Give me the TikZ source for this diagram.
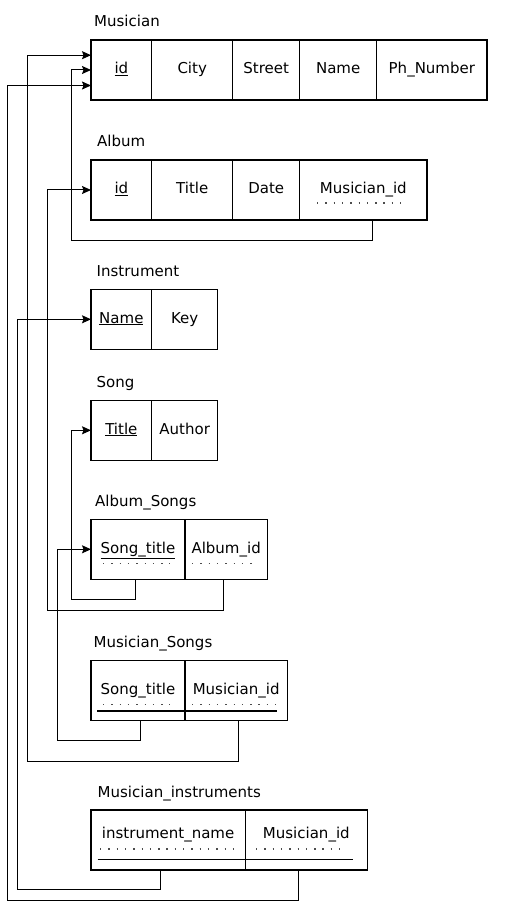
\documentclass[tikz,border=0pt]{standalone}
\usepackage{fontspec}
\setmainfont{DejaVu Sans}
\usepackage{tikz}
\usetikzlibrary{positioning,arrows.meta}
\tikzstyle{cell} = [rectangle, minimum height=60pt, inner sep=0pt, outer sep=0pt, text centered, text height=11pt, text depth=3.5pt, draw=black, line width=1.3pt, font=\fontsize{15}{17}\selectfont]
\tikzstyle{tname} = [anchor=base west, inner sep=0pt, font=\fontsize{15}{17}\selectfont]
\tikzstyle{link} = [line width=1pt, -{Stealth[length=9pt,width=8pt,inset=1.5pt]}]
\tikzstyle{fkdots} = [line width=1.4pt, dash pattern=on 1.4pt off 6.9pt, black!70]
\tikzstyle{pkline} = [line width=1.1pt]

\begin{document}
\begin{tikzpicture}[x=1pt,y=-1pt]
\useasboundingbox (0,0) rectangle (507,909);

% Musician
\node (MusId) [cell, minimum width=60.7pt, anchor=north west] at (91,40) {\underline{id}};
\node (MusCity) [cell, minimum width=81pt, right=0pt of MusId] {City};
\node (MusStreet) [cell, minimum width=67pt, right=0pt of MusCity] {Street};
\node (MusName) [cell, minimum width=77pt, right=0pt of MusStreet] {Name};
\node (MusPh) [cell, minimum width=110.3pt, right=0pt of MusName] {Ph\_Number};
\node (MusT) [tname] at ([xshift=3pt,yshift=13pt]MusId.north west) {Musician};

% Album
\node (AlbId) [cell, minimum width=60.7pt, anchor=north west] at (91,160) {\underline{id}};
\node (AlbTitle) [cell, minimum width=81pt, right=0pt of AlbId] {Title};
\node (AlbDate) [cell, minimum width=67pt, right=0pt of AlbTitle] {Date};
\node (AlbMus) [cell, minimum width=127.3pt, right=0pt of AlbDate] {Musician\_id};
\node (AlbT) [tname] at ([xshift=6pt,yshift=13pt]AlbId.north west) {Album};

% Instrument
\node (InsName) [cell, minimum width=60.7pt, anchor=north west] at (91,289.3) {\underline{Name}};
\node (InsKey) [cell, minimum width=66pt, right=0pt of InsName] {Key};
\node (InsT) [tname] at ([xshift=5.5pt,yshift=13pt]InsName.north west) {Instrument};

% Song
\node (SongTitle) [cell, minimum width=60.7pt, anchor=north west] at (91,400.3) {\underline{Title}};
\node (SongAuth) [cell, minimum width=66pt, right=0pt of SongTitle] {Author};
\node (SongT) [tname] at ([xshift=5.5pt,yshift=13pt]SongTitle.north west) {Song};

% Album_Songs
\node (AsTitle) [cell, minimum width=94pt, anchor=north west] at (91,519.3) {\underline{Song\_title}};
\node (AsAlb) [cell, minimum width=82.3pt, right=0pt of AsTitle] {Album\_id};
\node (AsT) [tname] at ([xshift=4pt,yshift=13pt]AsTitle.north west) {Album\_Songs};

% Musician_Songs
\node (MsTitle) [cell, minimum width=94pt, anchor=north west] at (91,660.7) {Song\_title};
\node (MsMus) [cell, minimum width=102.3pt, right=0pt of MsTitle] {Musician\_id};
\node (MsT) [tname] at ([xshift=2.5pt,yshift=13pt]MsTitle.north west) {Musician\_Songs};

% Musician_instruments
\node (MiName) [cell, minimum width=154.3pt, text depth=13.5pt, anchor=north west] at (91,810) {instrument\_name};
\node (MiMus) [cell, minimum width=122pt, text depth=13.5pt, right=0pt of MiName] {Musician\_id};
\node (MiT) [tname] at ([xshift=6.5pt,yshift=13pt]MiName.north west) {Musician\_instruments};

% foreign keys (dotted) and composite keys
\draw[fkdots] ([xshift=17.3pt,yshift=17pt]AlbMus.south west) -- ([xshift=-19pt,yshift=17pt]AlbMus.south east);
\draw[fkdots] ([xshift=12pt,yshift=16pt]AsTitle.south west) -- ([xshift=-15pt,yshift=16pt]AsTitle.south east);
\draw[fkdots] ([xshift=7pt,yshift=16pt]AsAlb.south west) -- ([xshift=-10.3pt,yshift=16pt]AsAlb.south east);
\draw[fkdots] ([xshift=12pt,yshift=16pt]MsTitle.south west) -- ([xshift=-15pt,yshift=16pt]MsTitle.south east);
\draw[fkdots] ([xshift=7pt,yshift=16pt]MsMus.south west) -- ([xshift=-5.3pt,yshift=16pt]MsMus.south east);
\draw[pkline] ([xshift=6pt,yshift=9.7pt]MsTitle.south west) -- ([xshift=-10pt,yshift=9.7pt]MsMus.south east);
\draw[fkdots] ([xshift=9pt,yshift=21pt]MiName.south west) -- ([xshift=-6.3pt,yshift=21pt]MiName.south east);
\draw[fkdots] ([xshift=10.7pt,yshift=21pt]MiMus.south west) -- ([xshift=-21.3pt,yshift=21pt]MiMus.south east);
\draw[pkline] ([xshift=6.7pt,yshift=10.3pt]MiName.south west) -- ([xshift=-14.3pt,yshift=10.3pt]MiMus.south east);

% references
\draw[link] ([xshift=8.7pt]AlbMus.south) -- ++(0,20) -| ([xshift=-19.3pt]MusId.west) -- (MusId.west);
\draw[link] ([xshift=-2.9pt]AsAlb.south) -- ++(0,30.7) -| ([xshift=-43.7pt]AlbId.west) -- (AlbId.west);
\draw[link] ([xshift=-2.3pt]AsTitle.south) -- ++(0,19.7) -| ([xshift=-19.3pt]SongTitle.west) -- (SongTitle.west);
\draw[link] ([xshift=2.7pt]MsTitle.south) -- ++(0,20) -| ([xshift=-33.3pt]AsTitle.west) -- (AsTitle.west);
\draw[link] ([xshift=2.1pt]MsMus.south) -- ++(0,40.3) -| ([xshift=-64pt,yshift=14.8pt]MusId.west) -- ([yshift=14.8pt]MusId.west);
\draw[link] ([xshift=-7.9pt]MiName.south) -- ++(0,19.7) -| ([xshift=-73.7pt]InsName.west) -- (InsName.west);
\draw[link] ([xshift=-8pt]MiMus.south) -- ++(0,30) -| ([xshift=-83.3pt,yshift=-15.5pt]MusId.west) -- ([yshift=-15.5pt]MusId.west);
\end{tikzpicture}
\end{document}
